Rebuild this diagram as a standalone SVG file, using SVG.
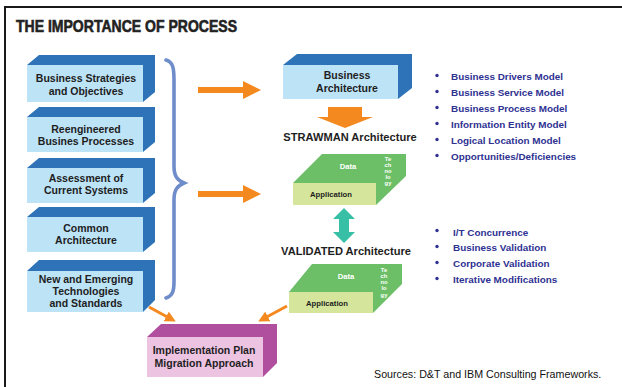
<svg xmlns="http://www.w3.org/2000/svg" width="622" height="387" viewBox="0 0 622 387">
  <defs>
    <style>
      text { font-family: "Liberation Sans", Arial, sans-serif; font-weight: bold; }
      .box-back { fill: #2e73b8; }
      .box-front { fill: #bde3f6; }
      .box-txt { font-size: 10.5px; fill: #1e1e1e; text-anchor: middle; }
      .impl-back { fill: #b14f9f; }
      .impl-front { fill: #edc3e2; }
      .grn-dark { fill: #6cbf67; }
      .grn-light { fill: #d5e59b; }
      .lyr-txt { font-size: 7.7px; text-anchor: middle; }
      .tech-txt { font-size: 5.8px; fill: #ffffff; text-anchor: middle; }
      .orange { fill: #f4891f; }
      .blist { font-size: 9.9px; fill: #2e3192; }
      .bullet { fill: #2e3192; }
      .heading { font-size: 11.1px; fill: #1e1e1e; text-anchor: middle; }
    </style>
    <marker id="oh" viewBox="0 0 10 10" refX="5" refY="5" markerWidth="3.6" markerHeight="3.6" orient="auto" markerUnits="strokeWidth">
      <path d="M0,0 L10,5 L0,10 Z" fill="#f4891f"/>
    </marker>
  </defs>

  <rect width="622" height="387" fill="#ffffff"/>

  <!-- frame -->
  <line x1="4" y1="7" x2="622" y2="7" stroke="#1a1a1a" stroke-width="2.2"/>
  <line x1="5" y1="6" x2="5" y2="387" stroke="#1a1a1a" stroke-width="2"/>

  <text x="16" y="32" font-size="16.8" fill="#222222" stroke="#222222" stroke-width="0.6" textLength="221" lengthAdjust="spacingAndGlyphs">THE IMPORTANCE OF PROCESS</text>

  <!-- input boxes -->
  <g id="box-strategies">
    <polygon class="box-back" points="27,65 39,55 155,55 155,92 143,102"/>
    <rect class="box-front" x="27" y="65" width="116" height="37"/>
    <text class="box-txt" x="86" y="82">Business Strategies</text>
    <text class="box-txt" x="86" y="95">and Objectives</text>
  </g>
  <g id="box-reengineered">
    <polygon class="box-back" points="27,117 39,107 155,107 155,142 143,152"/>
    <rect class="box-front" x="27" y="117" width="116" height="35"/>
    <text class="box-txt" x="86" y="133">Reengineered</text>
    <text class="box-txt" x="86" y="145">Busines Processes</text>
  </g>
  <g id="box-assessment">
    <polygon class="box-back" points="27,168 39,158 155,158 155,193 143,203"/>
    <rect class="box-front" x="27" y="168" width="116" height="35"/>
    <text class="box-txt" x="86" y="182">Assessment of</text>
    <text class="box-txt" x="86" y="194">Current Systems</text>
  </g>
  <g id="box-common">
    <polygon class="box-back" points="27,217 39,207 155,207 155,242 143,252"/>
    <rect class="box-front" x="27" y="217" width="116" height="35"/>
    <text class="box-txt" x="86" y="232">Common</text>
    <text class="box-txt" x="86" y="244">Architecture</text>
  </g>
  <g id="box-emerging">
    <polygon class="box-back" points="27,271 39,260 155,260 155,300 143,312"/>
    <rect class="box-front" x="27" y="271" width="116" height="41"/>
    <text class="box-txt" x="86" y="283">New and Emerging</text>
    <text class="box-txt" x="86" y="295">Technologies</text>
    <text class="box-txt" x="86" y="307">and Standards</text>
  </g>

  <!-- business architecture -->
  <g id="business-architecture">
    <polygon class="box-back" points="283,65 297,54 412,54 412,88 398,99"/>
    <rect class="box-front" x="283" y="65" width="115" height="34"/>
    <text class="box-txt" x="347" y="79" font-size="11.2">Business</text>
    <text class="box-txt" x="347" y="92" font-size="11.2">Architecture</text>
  </g>

  <text class="heading" x="350" y="141">STRAWMAN Architecture</text>

  <g id="strawman-layers">
    <polygon class="grn-dark" points="293,183 322,154 406,154 406,176 376,205 293,205"/>
    <rect class="grn-light" x="293" y="183" width="83" height="22"/>
    <text class="lyr-txt" x="348" y="169" fill="#ffffff">Data</text>
    <text class="lyr-txt" x="331" y="197" fill="#1e1e1e">Application</text>
    <text class="tech-txt" x="388" y="161">Te</text>
    <text class="tech-txt" x="388" y="167">ch</text>
    <text class="tech-txt" x="388" y="173">no</text>
    <text class="tech-txt" x="388" y="179">lo</text>
    <text class="tech-txt" x="388" y="185">gy</text>
  </g>

  <text class="heading" x="346" y="255">VALIDATED Architecture</text>

  <g id="validated-layers">
    <polygon class="grn-dark" points="289,292 312,264 402,264 402,284 373,313 289,313"/>
    <rect class="grn-light" x="289" y="292" width="84" height="21"/>
    <text class="lyr-txt" x="346" y="279" fill="#ffffff">Data</text>
    <text class="lyr-txt" x="327" y="306" fill="#1e1e1e">Application</text>
    <text class="tech-txt" x="384" y="272">Te</text>
    <text class="tech-txt" x="384" y="278">ch</text>
    <text class="tech-txt" x="384" y="284">no</text>
    <text class="tech-txt" x="384" y="290">lo</text>
    <text class="tech-txt" x="384" y="297">gy</text>
  </g>

  <!-- implementation plan -->
  <g id="implementation-plan">
    <polygon class="impl-back" points="147,337 161,324 277,324 277,363 263,377"/>
    <rect class="impl-front" x="147" y="337" width="116" height="40"/>
    <text class="box-txt" x="204" y="354" font-size="10.8">Implementation Plan</text>
    <text class="box-txt" x="204" y="367" font-size="10.8">Migration Approach</text>
  </g>

  <!-- connectors -->
  <g id="connectors">
    <path d="M166,60 C173,62 174,68 174,80 L174,166 C174,176 177,180 184,183 C177,186 174,190 174,200 L174,282 C174,292 172,296 166,298" fill="none" stroke="#6f8dcb" stroke-width="3.6" stroke-linecap="round"/>
    <polygon class="orange" points="198,87 243,87 243,81 261,90 243,99 243,93 198,93"/>
    <polygon class="orange" points="198,191 243,191 243,185 261,194 243,203 243,197 198,197"/>
    <polygon class="orange" points="328,107 362,107 362,117 373,117 345,128 317,117 328,117"/>
    <polygon fill="#38c0a6" points="344,208 355,219 349,219 349,232 355,232 344,243 333,232 339,232 339,219 333,219"/>
    <line x1="149" y1="307" x2="171" y2="319" stroke="#f4891f" stroke-width="3" marker-end="url(#oh)"/>
    <line x1="287" y1="306" x2="263" y2="319" stroke="#f4891f" stroke-width="3" marker-end="url(#oh)"/>
  </g>

  <!-- strawman model list -->
  <g id="strawman-list">
    <circle class="bullet" cx="437" cy="75.5" r="1.7"/>
    <text class="blist" x="451" y="80">Business Drivers Model</text>
    <circle class="bullet" cx="437" cy="91.5" r="1.7"/>
    <text class="blist" x="451" y="96">Business Service Model</text>
    <circle class="bullet" cx="437" cy="107.5" r="1.7"/>
    <text class="blist" x="451" y="112">Business Process Model</text>
    <circle class="bullet" cx="437" cy="123.5" r="1.7"/>
    <text class="blist" x="451" y="128">Information Entity Model</text>
    <circle class="bullet" cx="437" cy="139.5" r="1.7"/>
    <text class="blist" x="451" y="144">Logical Location Model</text>
    <circle class="bullet" cx="437" cy="155.5" r="1.7"/>
    <text class="blist" x="451" y="160">Opportunities/Deficiencies</text>
  </g>

  <!-- validation list -->
  <g id="validated-list">
    <circle class="bullet" cx="437" cy="230.5" r="1.7"/>
    <text class="blist" x="453" y="235.5">I/T Concurrence</text>
    <circle class="bullet" cx="437" cy="246.5" r="1.7"/>
    <text class="blist" x="453" y="251">Business Validation</text>
    <circle class="bullet" cx="437" cy="262.5" r="1.7"/>
    <text class="blist" x="453" y="267">Corporate Validation</text>
    <circle class="bullet" cx="437" cy="278.5" r="1.7"/>
    <text class="blist" x="453" y="283">Iterative Modifications</text>
  </g>

  <text x="374" y="378" font-size="10.7" fill="#111111" style="font-weight:normal">Sources: D&amp;T and IBM Consulting Frameworks.</text>
</svg>
